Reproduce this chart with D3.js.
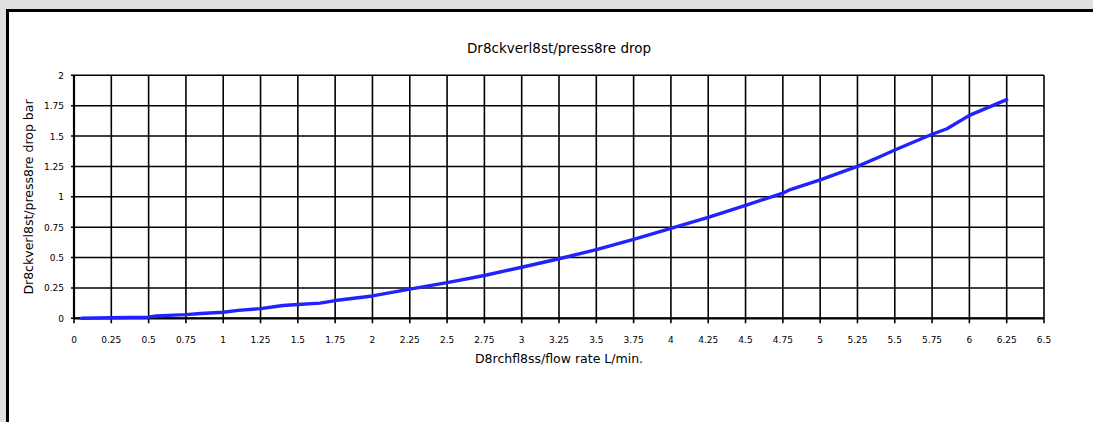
<!DOCTYPE html>
<html>
<head>
<meta charset="utf-8">
<script src="https://cdn.jsdelivr.net/npm/d3@7"></script>
<style>
  html, body { margin: 0; padding: 0; background: #e0e0e0; }
  svg { display: block; }
</style>
</head>
<body>
<svg id="chart" width="1093" height="422"></svg>
<script>
// measured curve, flow rate L/min vs pressure drop bar
const flowRate = [0.05, 0.25, 0.5, 0.55, 0.75, 0.85, 1.0, 1.1, 1.25, 1.4, 1.5, 1.65, 1.75, 2.0, 2.25, 2.5, 2.75, 3.0, 3.25, 3.5, 3.75, 4.0, 4.25, 4.5, 4.75, 4.8, 5.0, 5.25, 5.4, 5.5, 5.75, 5.85, 6.0, 6.25];
const pressureDrop = [0, 0.005, 0.01, 0.02, 0.03, 0.04, 0.05, 0.065, 0.08, 0.105, 0.113, 0.125, 0.146, 0.184, 0.24, 0.294, 0.352, 0.42, 0.49, 0.565, 0.65, 0.74, 0.83, 0.93, 1.03, 1.06, 1.14, 1.25, 1.33, 1.385, 1.515, 1.56, 1.67, 1.8];
const xTicks = d3.range(0, 6.5001, 0.25);
const yTicks = d3.range(0, 2.0001, 0.25);

const title = "Dr8ckverl8st/press8re drop";
const xLabel = "D8rchfl8ss/flow rate L/min.";
const yLabel = "Dr8ckverl8st/press8re drop bar";

const font = "'DejaVu Sans', Verdana, sans-serif";
const svg = d3.select("#chart");

// white panel with heavy border
svg.append("rect")
  .attr("x", 7.5).attr("y", 10.5)
  .attr("width", 1200).attr("height", 500)
  .attr("fill", "#fff")
  .attr("stroke", "#000")
  .attr("stroke-width", 3);

const x = d3.scaleLinear().domain([0, 6.5]).range([74, 1044]);
const y = d3.scaleLinear().domain([0, 2]).range([318.3, 75.3]);

// grid
const grid = svg.append("g").attr("stroke", "#000").attr("stroke-width", 1.6);
grid.selectAll("line.v")
  .data(xTicks)
  .join("line")
  .attr("class", "v")
  .attr("x1", d => x(d)).attr("x2", d => x(d))
  .attr("y1", y(2)).attr("y2", y(0) + 5);
grid.selectAll("line.h")
  .data(yTicks)
  .join("line")
  .attr("class", "h")
  .attr("x1", x(0) - 3).attr("x2", x(6.5))
  .attr("y1", d => y(d)).attr("y2", d => y(d));

// axis baseline a bit heavier
svg.append("line")
  .attr("x1", x(0)).attr("x2", x(6.5))
  .attr("y1", y(0)).attr("y2", y(0))
  .attr("stroke", "#000").attr("stroke-width", 2.2);
svg.append("line")
  .attr("x1", x(0)).attr("x2", x(0))
  .attr("y1", y(2)).attr("y2", y(0))
  .attr("stroke", "#000").attr("stroke-width", 2.2);

// tick labels
svg.append("g")
  .selectAll("text")
  .data(xTicks)
  .join("text")
  .attr("x", d => x(d))
  .attr("y", 343)
  .attr("text-anchor", "middle")
  .attr("font-family", font)
  .attr("font-size", "9px")
  .attr("fill", "#000")
  .text(d => d3.format("~g")(d));

svg.append("g")
  .selectAll("text")
  .data(yTicks)
  .join("text")
  .attr("x", 64)
  .attr("y", d => y(d) + 3.5)
  .attr("text-anchor", "end")
  .attr("font-family", font)
  .attr("font-size", "9px")
  .attr("fill", "#000")
  .text(d => d3.format("~g")(d));

// curve
const points = flowRate.map((f, i) => [f, pressureDrop[i]]);
svg.append("path")
  .datum(points)
  .attr("fill", "none")
  .attr("stroke", "#2222ff")
  .attr("stroke-width", 3.4)
  .attr("stroke-linejoin", "round")
  .attr("stroke-linecap", "round")
  .attr("d", d3.line().x(d => x(d[0])).y(d => y(d[1])));

// titles
svg.append("text")
  .attr("x", 559).attr("y", 53)
  .attr("text-anchor", "middle")
  .attr("font-family", font)
  .attr("font-size", "13.5px")
  .text(title);

svg.append("text")
  .attr("x", 559).attr("y", 363)
  .attr("text-anchor", "middle")
  .attr("font-family", font)
  .attr("font-size", "12.5px")
  .text(xLabel);

svg.append("text")
  .attr("transform", "translate(33,197) rotate(-90)")
  .attr("text-anchor", "middle")
  .attr("font-family", font)
  .attr("font-size", "12.5px")
  .text(yLabel);
</script>
</body>
</html>
